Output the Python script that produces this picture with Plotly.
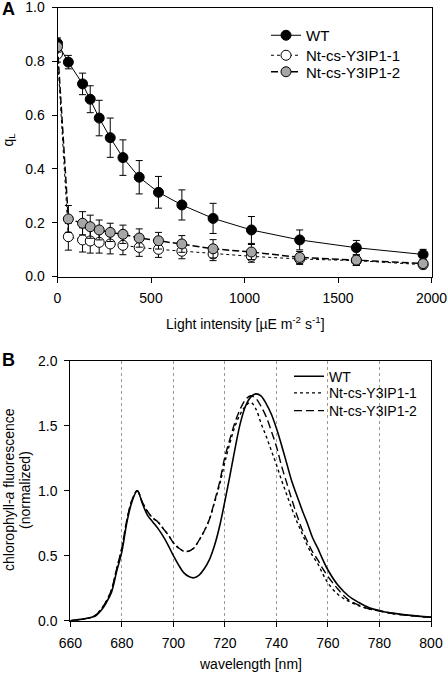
import plotly.graph_objects as go

# ---------------- Panel A data ----------------
light = [0, 58, 134, 175, 223, 282, 350, 437, 540, 665, 832, 1037, 1295, 1598, 1955]
wt_ql = [0.867, 0.797, 0.716, 0.659, 0.589, 0.516, 0.442, 0.369, 0.313, 0.266, 0.216, 0.173, 0.136, 0.107, 0.082]
wt_err = [0.02, 0.025, 0.04, 0.05, 0.066, 0.073, 0.066, 0.062, 0.059, 0.056, 0.056, 0.05, 0.037, 0.027, 0.019]
l1_ql = [0.827, 0.148, 0.136, 0.132, 0.127, 0.121, 0.116, 0.108, 0.101, 0.094, 0.084, 0.075, 0.065, 0.059, 0.044]
l1_err = [0.03, 0.05, 0.045, 0.045, 0.04, 0.037, 0.035, 0.033, 0.03, 0.028, 0.025, 0.022, 0.02, 0.018, 0.015]
l2_ql = [0.854, 0.214, 0.198, 0.185, 0.173, 0.164, 0.157, 0.143, 0.133, 0.121, 0.103, 0.091, 0.071, 0.061, 0.048]
l2_err = [0.02, 0.05, 0.043, 0.043, 0.037, 0.034, 0.034, 0.034, 0.031, 0.031, 0.034, 0.028, 0.022, 0.02, 0.015]

# ---------------- Panel B data ----------------
wl = [660, 664, 668, 670, 672, 674, 676, 678, 680, 682, 684, 686, 688, 690, 692, 694, 696, 698,
      700, 702, 704, 706, 708, 710, 712, 714, 716, 718, 720, 722, 724, 726, 728, 730, 732, 734,
      736, 738, 740, 742, 744, 746, 748, 750, 752, 754, 756, 758, 760, 764, 768, 772, 776, 780,
      785, 790, 795, 800]
wt_fl = [0.0, 0.01, 0.025, 0.04, 0.08, 0.14, 0.22, 0.38, 0.53, 0.76, 0.92, 1.0, 0.9, 0.81, 0.76, 0.71, 0.65, 0.58,
         0.5, 0.43, 0.37, 0.34, 0.33, 0.35, 0.4, 0.47, 0.58, 0.73, 0.92, 1.12, 1.33, 1.52, 1.65, 1.72, 1.745, 1.73,
         1.67, 1.59, 1.48, 1.35, 1.21, 1.07, 0.96, 0.85, 0.75, 0.64, 0.56, 0.47, 0.39, 0.27, 0.19, 0.14, 0.1, 0.077,
         0.058, 0.045, 0.035, 0.027]
l1_fl = [0.0, 0.01, 0.025, 0.045, 0.09, 0.15, 0.24, 0.4, 0.56, 0.78, 0.93, 1.0, 0.91, 0.84, 0.79, 0.76, 0.71, 0.66,
         0.6, 0.56, 0.535, 0.535, 0.56, 0.62, 0.69, 0.78, 0.91, 1.05, 1.22, 1.37, 1.5, 1.59, 1.65, 1.68, 1.63, 1.52,
         1.42, 1.31, 1.2, 1.08, 0.97, 0.86, 0.76, 0.67, 0.58, 0.5, 0.44, 0.36, 0.29, 0.2, 0.15, 0.115, 0.09, 0.075,
         0.056, 0.044, 0.034, 0.026]
l2_fl = [0.0, 0.01, 0.025, 0.045, 0.09, 0.15, 0.24, 0.4, 0.56, 0.78, 0.93, 1.0, 0.91, 0.84, 0.79, 0.76, 0.71, 0.66,
         0.6, 0.56, 0.535, 0.535, 0.56, 0.62, 0.69, 0.78, 0.92, 1.07, 1.26, 1.4, 1.53, 1.63, 1.7, 1.73, 1.71, 1.65,
         1.57, 1.46, 1.34, 1.19, 1.06, 0.93, 0.81, 0.7, 0.61, 0.53, 0.47, 0.4, 0.34, 0.24, 0.16, 0.12, 0.09, 0.075,
         0.055, 0.043, 0.033, 0.026]

names = ["WT", "Nt-cs-Y3IP1-1", "Nt-cs-Y3IP1-2"]
xticks_a = [0, 500, 1000, 1500, 2000]
yticks_a = [0.0, 0.2, 0.4, 0.6, 0.8, 1.0]
xticks_b = [660, 680, 700, 720, 740, 760, 780, 800]
yticks_b = [0.0, 0.5, 1.0, 1.5, 2.0]

FONT = "Liberation Sans, Arial, sans-serif"
W, H = 448, 674


def px(x):
    return x / W


def py(y):
    return 1 - y / H


fig = go.Figure()

err_style = dict(type="data", color="black", thickness=1, width=3.5)

fig.add_trace(go.Scatter(
    x=light, y=wt_ql, name=names[0], mode="lines+markers",
    line=dict(color="black", width=1),
    marker=dict(size=10, color="black", line=dict(color="black", width=1)),
    error_y=dict(array=wt_err, **err_style),
    xaxis="x", yaxis="y", legend="legend"))
fig.add_trace(go.Scatter(
    x=light, y=l1_ql, name=names[1], mode="lines+markers",
    line=dict(color="black", width=1, dash="dot"),
    marker=dict(size=10, color="white", line=dict(color="black", width=1)),
    error_y=dict(array=l1_err, **err_style),
    xaxis="x", yaxis="y", legend="legend2"))
fig.add_trace(go.Scatter(
    x=light, y=l2_ql, name=names[2], mode="lines+markers",
    line=dict(color="black", width=1.5, dash="7px,3px"),
    marker=dict(size=10, color="#a6a6a6", line=dict(color="black", width=1)),
    error_y=dict(array=l2_err, **err_style),
    xaxis="x", yaxis="y", legend="legend3"))

fig.add_trace(go.Scatter(
    x=wl, y=wt_fl, name=names[0], mode="lines", line_shape="spline",
    line=dict(color="black", width=1.6),
    xaxis="x2", yaxis="y2", legend="legend4"))
fig.add_trace(go.Scatter(
    x=wl, y=l1_fl, name=names[1], mode="lines", line_shape="spline",
    line=dict(color="black", width=1.4, dash="dot"),
    xaxis="x2", yaxis="y2", legend="legend5"))
fig.add_trace(go.Scatter(
    x=wl, y=l2_fl, name=names[2], mode="lines", line_shape="spline",
    line=dict(color="black", width=1.4, dash="8px,4px"),
    xaxis="x2", yaxis="y2", legend="legend6"))

axis_common = dict(showline=True, linecolor="black", linewidth=1, mirror=True,
                   ticks="outside", ticklen=5, tickcolor="black", tickwidth=1,
                   zeroline=False, automargin=False, ticklabeloverflow="allow",
                   tickfont=dict(family=FONT, size=14, color="black"))


def leg(xp, yp, size):
    return dict(x=px(xp), y=py(yp), xanchor="left", yanchor="middle",
                bgcolor="rgba(0,0,0,0)", font=dict(family=FONT, size=size, color="black"),
                itemwidth=30)


fig.update_layout(
    width=W, height=H,
    margin=dict(l=0, r=0, t=0, b=0, pad=0),
    paper_bgcolor="white", plot_bgcolor="white",
    font=dict(family=FONT, size=14, color="black"),
    xaxis=dict(domain=[px(57.5), px(431.5)], range=[0, 2000], tickvals=xticks_a,
               showgrid=False, anchor="y", ticklabelstandoff=4, **axis_common),
    yaxis=dict(domain=[py(276.5), py(7.5)], range=[0, 1], tickvals=yticks_a, tickformat=".1f",
               showgrid=False, anchor="x", ticklabelstandoff=4, **axis_common),
    xaxis2=dict(domain=[px(70.3), px(431)], range=[660, 800], tickvals=xticks_b,
                showgrid=True, gridcolor="#9a9a9a", gridwidth=1, griddash="dot",
                anchor="y2", ticklabelstandoff=4, **axis_common),
    yaxis2=dict(domain=[py(620.7), py(360.7)], range=[0, 2], tickvals=yticks_b, tickformat=".1f",
                showgrid=False, anchor="x2", ticklabelstandoff=4, **axis_common),
    legend=leg(266, 35.5, 15),
    legend2=leg(266, 55.5, 15),
    legend3=leg(266, 72, 15),
    legend4=leg(289, 376.7, 14),
    legend5=leg(289, 393.3, 14),
    legend6=leg(289, 411, 14),
    showlegend=True,
)

ann = [
    dict(text="<b>A</b>", x=px(8.5), y=py(9), font=dict(size=18)),
    dict(text="<b>B</b>", x=px(8.5), y=py(360), font=dict(size=18)),
    dict(text="q<sub>L</sub>", x=px(8.5), y=py(140), textangle=-90, font=dict(size=14)),
    dict(text="Light intensity [µE m<sup>-2</sup> s<sup>-1</sup>]", x=px(245), y=py(323), font=dict(size=14)),
    dict(text="chlorophyll-<i>a</i> fluorescence", x=px(9), y=py(490), textangle=-90, font=dict(size=14)),
    dict(text="(normalized)", x=px(25), y=py(490), textangle=-90, font=dict(size=14)),
    dict(text="wavelength [nm]", x=px(250), y=py(664), font=dict(size=14)),
]
for a in ann:
    fig.add_annotation(xref="paper", yref="paper", showarrow=False,
                       xanchor="center", yanchor="middle",
                       font_family=FONT, font_color="black", **a)

fig.write_html("out.html", config={"displayModeBar": False},
               post_script="document.body.style.margin='0';")
